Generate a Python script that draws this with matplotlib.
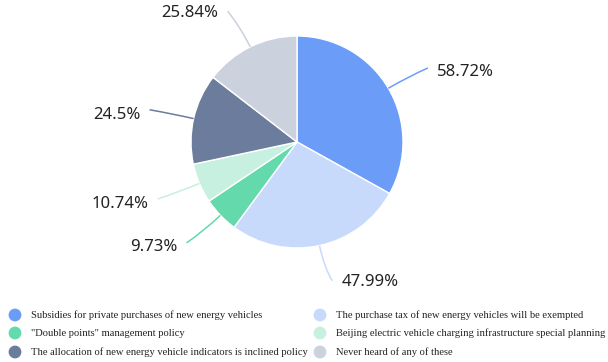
import numpy as np
import matplotlib.pyplot as plt
from matplotlib.path import Path
from matplotlib.patches import PathPatch

# Данные
categories = [
    "Subsidies for private purchases of new energy vehicles",
    "The purchase tax of new energy vehicles will be exempted",
    "\"Double points\" management policy",
    "Beijing electric vehicle charging infrastructure special planning",
    "The allocation of new energy vehicle indicators is inclined policy",
    "Never heard of any of these",
]
values = [58.72, 47.99, 9.73, 10.74, 24.5, 25.84]
colors = ["#6B9DF8", "#C8DAFB", "#64D9AB", "#C8F0E0", "#6C7C9C", "#CBD1DD"]

W, H = 608, 362
fig = plt.figure(figsize=(W / 100, H / 100), dpi=100)
ax = fig.add_axes([0, 0, 1, 1])

cx, cy, r = 297, 142, 106
wedges, _ = ax.pie(values, colors=colors, startangle=-90, counterclock=True,
                   center=(cx, cy), radius=r,
                   wedgeprops=dict(edgecolor="white", linewidth=1))
ax.set_xlim(0, W)
ax.set_ylim(H, 0)
ax.set_aspect("equal")
ax.axis("off")

# Подписи с выносками
for w, v, c in zip(wedges, values, colors):
    mid = np.deg2rad((w.theta1 + w.theta2) / 2)
    ux, uy = np.cos(mid), np.sin(mid)
    side = 1 if ux >= 0 else -1
    ext = 40 if abs(ux) > 0.4 else 36
    p0 = (cx + r * ux, cy + r * uy)
    pc = (cx + (r + 22) * ux, cy + (r + 22) * uy)
    p1 = (cx + (r + ext) * ux + side * 5, cy + (r + ext) * uy)
    path = Path([p0, pc, p1], [Path.MOVETO, Path.CURVE3, Path.CURVE3])
    ax.add_patch(PathPatch(path, fill=False, edgecolor=c, lw=1.1))
    ax.text(p1[0] + side * 9, p1[1] + 5 * abs(ux), f"{v}%",
            ha="left" if side > 0 else "right", va="center",
            fontsize=12, family="Noto Sans", color="#222222")

# Легенда
col_x = [15, 320]
row_y = [315, 333, 352]
for i, (name, c) in enumerate(zip(categories, colors)):
    x = col_x[i % 2]
    y = row_y[i // 2]
    ax.scatter([x], [y], s=85, color=c, edgecolors="none", clip_on=False)
    ax.text(x + 16, y, name, ha="left", va="center", fontsize=7.6,
            family="Liberation Serif", color="#222222")

fig.savefig("out.png", dpi=100)
